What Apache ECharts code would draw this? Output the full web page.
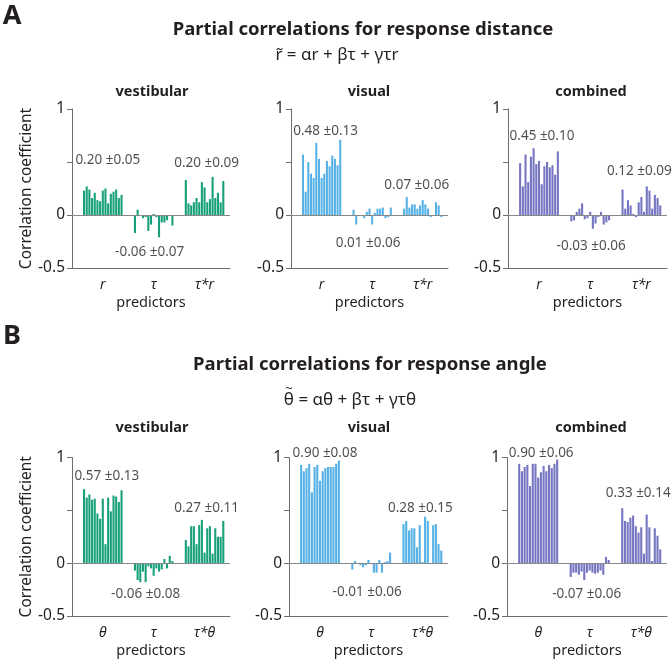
<!DOCTYPE html>
<html><head><meta charset="utf-8">
<script src="https://cdn.jsdelivr.net/npm/echarts@6/dist/echarts.min.js"></script>
<style>html,body{margin:0;padding:0;background:#fff}#c{width:672px;height:659px}</style>
</head><body><div id="c"></div>
<script>
// ---------- DATA ----------
const conditions = ['vestibular', 'visual', 'combined'];
const predictorsDistance = ['r', 'τ', 'τ*r'];
const predictorsAngle = ['θ', 'τ', 'τ*θ'];
const yTicks = [-0.5, 0, 0.5, 1];

// Response distance (15 subjects per predictor)
const distVestR    = [0.23,0.27,0.24,0.16,0.21,0.14,0.13,0.23,0.25,0.11,0.20,0.22,0.24,0.16,0.19];
const distVestTau  = [-0.17,0.05,0.00,-0.03,-0.02,-0.15,-0.09,0.01,-0.02,-0.21,-0.07,-0.07,-0.05,0.00,-0.10];
const distVestTauR = [0.33,0.11,0.09,0.12,0.16,0.12,0.31,0.26,0.12,0.15,0.36,0.16,0.21,0.12,0.32];
const distVisR     = [0.57,0.22,0.50,0.39,0.35,0.68,0.53,0.35,0.39,0.51,0.46,0.56,0.53,0.47,0.71];
const distVisTau   = [0.05,-0.09,0.00,0.00,-0.03,0.03,0.06,-0.09,0.02,0.06,0.06,0.07,-0.03,-0.02,0.07];
const distVisTauR  = [0.06,0.17,0.07,0.10,0.10,0.06,0.09,0.14,0.10,0.06,-0.02,0.00,0.12,0.09,-0.02];
const distCombR    = [0.49,0.27,0.57,0.31,0.55,0.63,0.48,0.51,0.29,0.46,0.50,0.45,0.47,0.38,0.60];
const distCombTau  = [-0.06,-0.05,0.03,0.06,0.11,-0.04,-0.03,0.03,-0.13,-0.08,-0.02,0.03,-0.09,-0.07,-0.05];
const distCombTauR = [0.24,0.06,0.14,0.09,0.01,-0.02,0.12,0.17,0.03,0.27,0.23,0.06,0.19,0.16,0.09];

// Response angle
const angVestTheta    = [0.70,0.62,0.65,0.60,0.61,0.47,0.42,0.61,0.18,0.62,0.49,0.64,0.63,0.58,0.69];
const angVestTau      = [-0.07,-0.16,-0.18,-0.08,-0.18,-0.03,-0.05,-0.12,-0.05,-0.08,-0.06,0.04,-0.05,0.07,0.02];
const angVestTauTheta = [0.22,0.16,0.35,0.35,0.18,0.36,0.41,0.10,0.33,0.35,0.09,0.33,0.25,0.25,0.40];
const angVisTheta     = [0.93,0.87,0.90,0.94,0.67,0.91,0.93,0.78,0.87,0.90,0.91,0.91,0.91,0.94,0.97];
const angVisTau       = [-0.06,0.02,0.00,-0.02,-0.04,-0.02,0.03,0.00,-0.09,-0.09,0.03,-0.09,0.01,0.02,0.10];
const angVisTauTheta  = [0.37,0.40,0.31,0.33,0.33,0.15,0.36,0.01,0.44,0.40,0.00,0.36,0.37,0.18,0.12];
const angCombTheta    = [0.94,0.87,0.91,0.93,0.73,0.94,0.94,0.81,0.86,0.92,0.87,0.93,0.90,0.94,0.98];
const angCombTau      = [-0.13,-0.09,-0.09,-0.11,-0.08,-0.16,-0.09,-0.07,-0.09,-0.10,-0.09,-0.07,-0.11,0.06,0.03];
const angCombTauTheta = [0.52,0.40,0.39,0.43,0.45,0.35,0.29,0.34,0.09,0.46,0.34,0.02,0.33,0.26,0.13];

// Summary statistics (mean ± sd) shown above each predictor
const distStatsVest = ['0.20 ±0.05', '-0.06 ±0.07', '0.20 ±0.09'];
const distStatsVis  = ['0.48 ±0.13', '0.01 ±0.06', '0.07 ±0.06'];
const distStatsComb = ['0.45 ±0.10', '-0.03 ±0.06', '0.12 ±0.09'];
const angStatsVest  = ['0.57 ±0.13', '-0.06 ±0.08', '0.27 ±0.11'];
const angStatsVis   = ['0.90 ±0.08', '-0.01 ±0.06', '0.28 ±0.15'];
const angStatsComb  = ['0.90 ±0.06', '-0.07 ±0.06', '0.33 ±0.14'];

const titleDistance = 'Partial correlations for response distance';
const formulaDistance = 'r\u0303 = αr + βτ + γτr';
const titleAngle = 'Partial correlations for response angle';
const formulaAngle = 'θ = αθ + βτ + γτθ';   // a tilde is drawn over the leading θ

// ---------- STYLE / LAYOUT ----------
const colors = ['#17a079', '#56b1e6', '#7676c2'];
const FONT = '"Noto Sans", sans-serif';
const INK = '#231f20';
const rows = [
  { top: 109, height: 159, lefts: [72, 291, 508], widths: [158, 157, 159],
    groups: [[distVestR, distVestTau, distVestTauR], [distVisR, distVisTau, distVisTauR], [distCombR, distCombTau, distCombTauR]],
    stats: [distStatsVest, distStatsVis, distStatsComb], predictors: predictorsDistance,
    statPos: [[[0.52,5],[-0.35,-4],[0.49,2]], [[0.79,4],[-0.27,-4],[0.28,-6]], [[0.74,3],[-0.29,1],[0.41,-2]]] },
  { top: 457.5, height: 160, lefts: [72, 289, 507], widths: [158, 159, 160],
    groups: [[angVestTheta, angVestTau, angVestTauTheta], [angVisTheta, angVisTau, angVisTauTheta], [angCombTheta, angCombTau, angCombTauTheta]],
    stats: [angStatsVest, angStatsVis, angStatsComb], predictors: predictorsAngle,
    statPos: [[[0.82,4],[-0.29,-8],[0.52,2]], [[1.04,5],[-0.27,-4],[0.52,-2]], [[1.04,3],[-0.29,-3],[0.66,-3]]] }
];
const LEAD = 4, GAP = 4, TRAIL = 2;

function buildSlots(groups, predictors) {
  const vals = [], cats = [], centers = [];
  for (let i = 0; i < LEAD; i++) { vals.push(null); cats.push(''); }
  groups.forEach((g, gi) => {
    if (gi > 0) for (let i = 0; i < GAP; i++) { vals.push(null); cats.push(''); }
    const start = vals.length;
    g.forEach(v => { vals.push(v); cats.push(''); });
    const c = start + Math.floor(g.length / 2);
    centers.push(c);
    cats[c] = predictors[gi];
  });
  for (let i = 0; i < TRAIL; i++) { vals.push(null); cats.push(''); }
  return { vals, cats, centers };
}

const grid = [], xAxis = [], yAxis = [], series = [];
let idx = 0;
rows.forEach((row, ri) => {
  conditions.forEach((cond, ci) => {
    const { vals, cats, centers } = buildSlots(row.groups[ci], row.predictors);
    grid.push({ left: row.lefts[ci], top: row.top, width: row.widths[ci], height: row.height });
    xAxis.push({
      type: 'category', gridIndex: idx, data: cats, position: 'bottom',
      axisLine: { onZero: false, lineStyle: { color: '#6e6e6e', width: 1 } },
      axisTick: { alignWithLabel: true, length: 5, lineStyle: { color: '#6e6e6e' },
        interval: (i) => centers.includes(i) },
      axisLabel: { interval: 0, margin: 10, fontSize: 14, fontStyle: 'italic', color: INK, fontFamily: FONT },
      name: 'predictors', nameLocation: 'middle', nameGap: 27,
      nameTextStyle: { fontSize: 14.5, color: INK, fontFamily: FONT },
      splitLine: { show: false }
    });
    yAxis.push({
      type: 'value', gridIndex: idx, min: -0.5, max: 1, interval: 0.5,
      axisLine: { show: true, lineStyle: { color: '#6e6e6e', width: 1 } },
      axisTick: { show: true, length: 5, lineStyle: { color: '#6e6e6e' } },
      axisLabel: { margin: 7, fontSize: 15.5, color: INK, fontFamily: FONT,
        formatter: (v) => (Math.abs(v - 0.5) < 1e-9 ? '' : String(v)) },
      splitLine: { show: false },
      name: ci === 0 ? 'Correlation coefficient' : '', nameLocation: 'middle', nameGap: 35,
      nameRotate: 90, nameTextStyle: { fontSize: 15.5, color: INK, fontFamily: FONT }
    });
    series.push({
      type: 'bar', xAxisIndex: idx, yAxisIndex: idx, data: vals, barWidth: '78%',
      itemStyle: { color: colors[ci] }, silent: true, animation: false,
      markLine: { silent: true, symbol: 'none', label: { show: false }, animation: false,
        lineStyle: { color: '#888', width: 1, type: 'solid' }, data: [{ yAxis: 0 }] }
    });
    const stats = row.stats[ci];
    series.push({
      type: 'scatter', xAxisIndex: idx, yAxisIndex: idx, clip: false, silent: true, animation: false,
      symbolSize: 0.1, itemStyle: { color: 'rgba(0,0,0,0)' },
      data: centers.map((c, k) => ({ value: [c, row.statPos[ci][k][0]],
        label: { offset: [row.statPos[ci][k][1], 0] } })),
      label: { show: true, position: 'inside', color: INK, fontSize: 13.5, fontFamily: FONT,
        formatter: (p) => stats[p.dataIndex] }
    });
    idx++;
  });
});

const subX = [152, 369, 591];
const graphic = [];
function txt(x, y, text, size, weight) {
  graphic.push({ type: 'text', x, y, style: { text, fontSize: size, fontWeight: weight || 'normal',
    fontFamily: FONT, fill: INK, textAlign: 'center', textVerticalAlign: 'middle' } });
}
txt(12, 16, 'A', 27, 'bold');
txt(363, 30, titleDistance, 18.5, 'bold');
txt(337, 55, formulaDistance, 17);
txt(12, 336, 'B', 27, 'bold');
txt(370, 365, titleAngle, 18.5, 'bold');
txt(350, 400, formulaAngle, 17);
// tilde over the leading θ of the angle formula, located by measuring the text
(function () {
  const ctx = document.createElement('canvas').getContext('2d');
  ctx.font = '17px "Noto Sans", sans-serif';
  const full = ctx.measureText(formulaAngle).width;
  const th = ctx.measureText('θ').width;
  const cx = 350 - full / 2 + th / 2;
  txt(cx, 389, '~', 13);
})();
conditions.forEach((c, i) => { txt(subX[i], 92, c, 14.5, 'bold'); txt(subX[i], 428, c, 14.5, 'bold'); });

const chart = echarts.init(document.getElementById('c'), null, { renderer: 'canvas' });
chart.setOption({ animation: false, backgroundColor: '#fff', grid, xAxis, yAxis, series, graphic });
</script></body></html>
